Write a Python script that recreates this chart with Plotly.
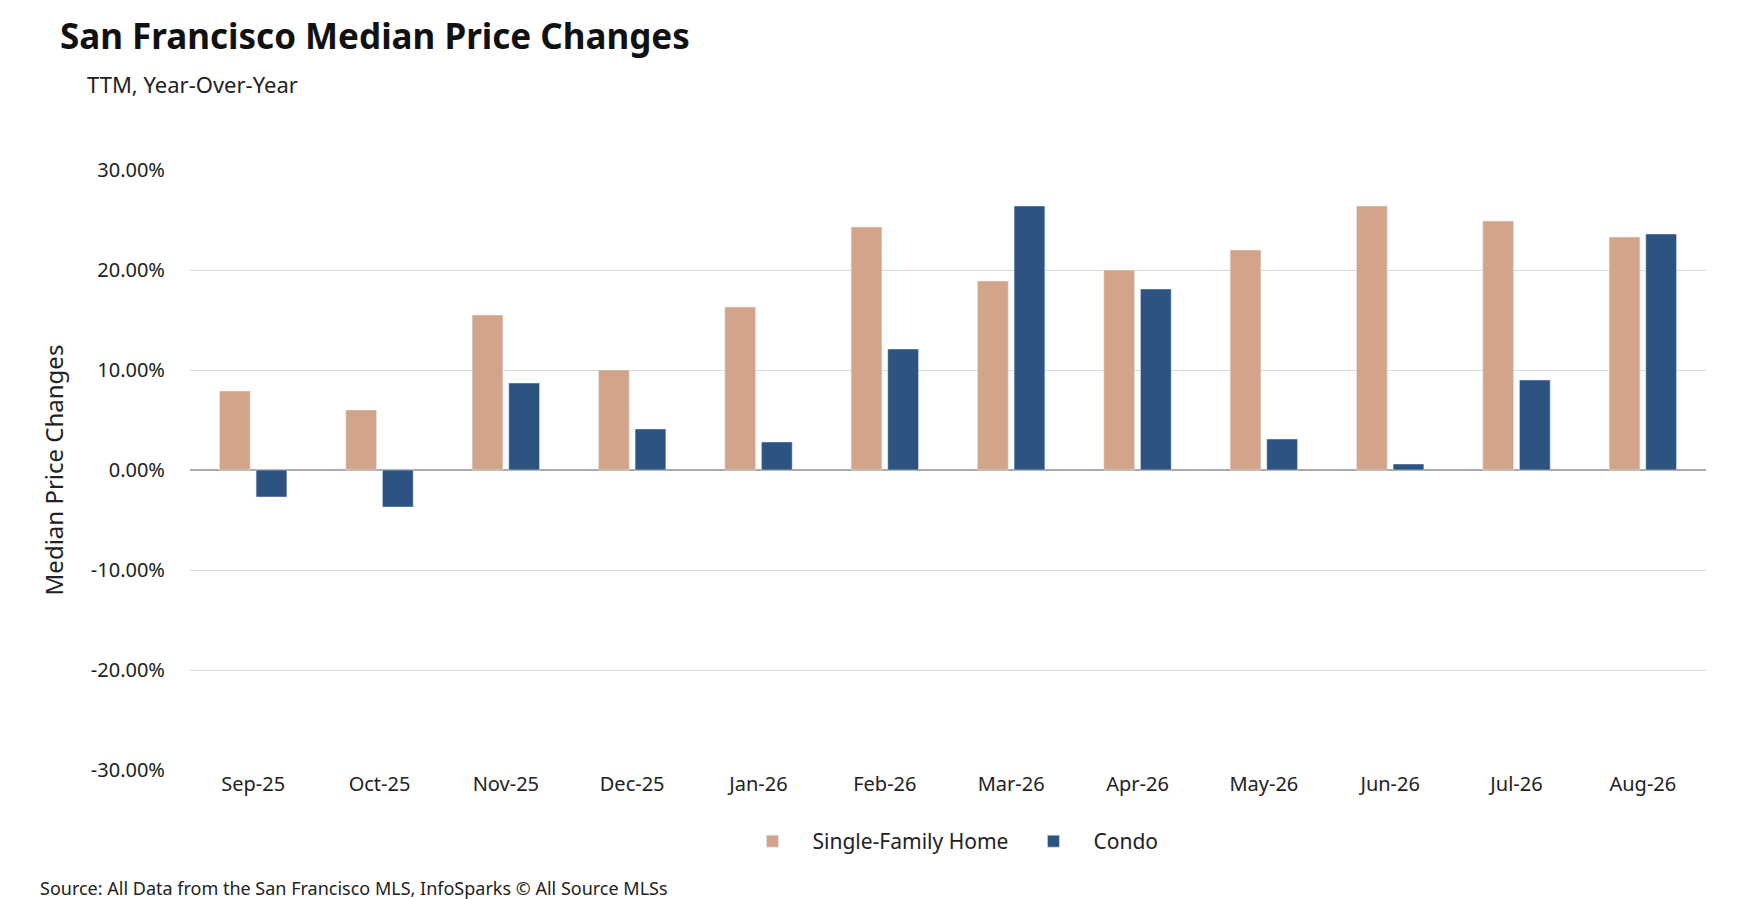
import plotly.graph_objects as go

months = ["Sep-25","Oct-25","Nov-25","Dec-25","Jan-26","Feb-26","Mar-26","Apr-26","May-26","Jun-26","Jul-26","Aug-26"]
sfh = [7.9, 6.0, 15.5, 10.0, 16.3, 24.3, 18.9, 20.0, 22.0, 26.4, 24.9, 23.3]
condo = [-2.7, -3.7, 8.7, 4.1, 2.8, 12.1, 26.4, 18.1, 3.1, 0.6, 9.0, 23.6]
yticks = [-30, -20, -10, 0, 10, 20, 30]

F = "Noto Sans"
L, R, T, B = 182, 50, 162, 137
fig = go.Figure()
fig.add_bar(x=months, y=sfh, name="Single-Family Home", marker_color="#D2A58B")
fig.add_bar(x=months, y=condo, name="Condo", marker_color="#2D5480")
fig.update_layout(
    width=1748, height=899, plot_bgcolor="white", paper_bgcolor="white",
    font=dict(family=F, size=19, color="#222"),
    margin=dict(l=L, r=R, t=T, b=B),
    barmode="group", bargap=0.42, bargroupgap=0.16,
    showlegend=True,
    legend=dict(orientation="h", x=0.5, xanchor="center", y=-0.085, yanchor="top",
                font=dict(size=21), itemwidth=70),
    annotations=[
        dict(text="<b>San Francisco Median Price Changes</b>", x=50, y=28,
             font=dict(size=35, family=F, color="#111")),
        dict(text="TTM, Year-Over-Year", x=77, y=76, font=dict(size=22, family=F)),
        dict(text="Source: All Data from the San Francisco MLS, InfoSparks © All Source MLSs", x=30, y=880,
             font=dict(size=18, family=F)),
    ],
)
ph = 899 - T - B
pw = 1748 - L - R
for a in fig.layout.annotations:
    a.x = (a.x - L) / pw
    a.y = 1 - (a.y - T) / ph
    a.xref = "paper"; a.yref = "paper"
    a.showarrow = False; a.xanchor = "left"; a.yanchor = "middle"
fig.update_yaxes(range=[-30, 30], tickvals=yticks, ticktext=[f"{v:.2f}%" for v in yticks],
                 gridcolor="#DADADA", zeroline=True, zerolinecolor="#AAAAAA", zerolinewidth=1.5,
                 title=dict(text="Median Price Changes", font=dict(size=24), standoff=20),
                 ticks="outside", ticklen=20, tickcolor="white", tickfont=dict(size=20))
fig.update_xaxes(showline=False, tickfont=dict(size=20))
fig.write_html("out.html")
